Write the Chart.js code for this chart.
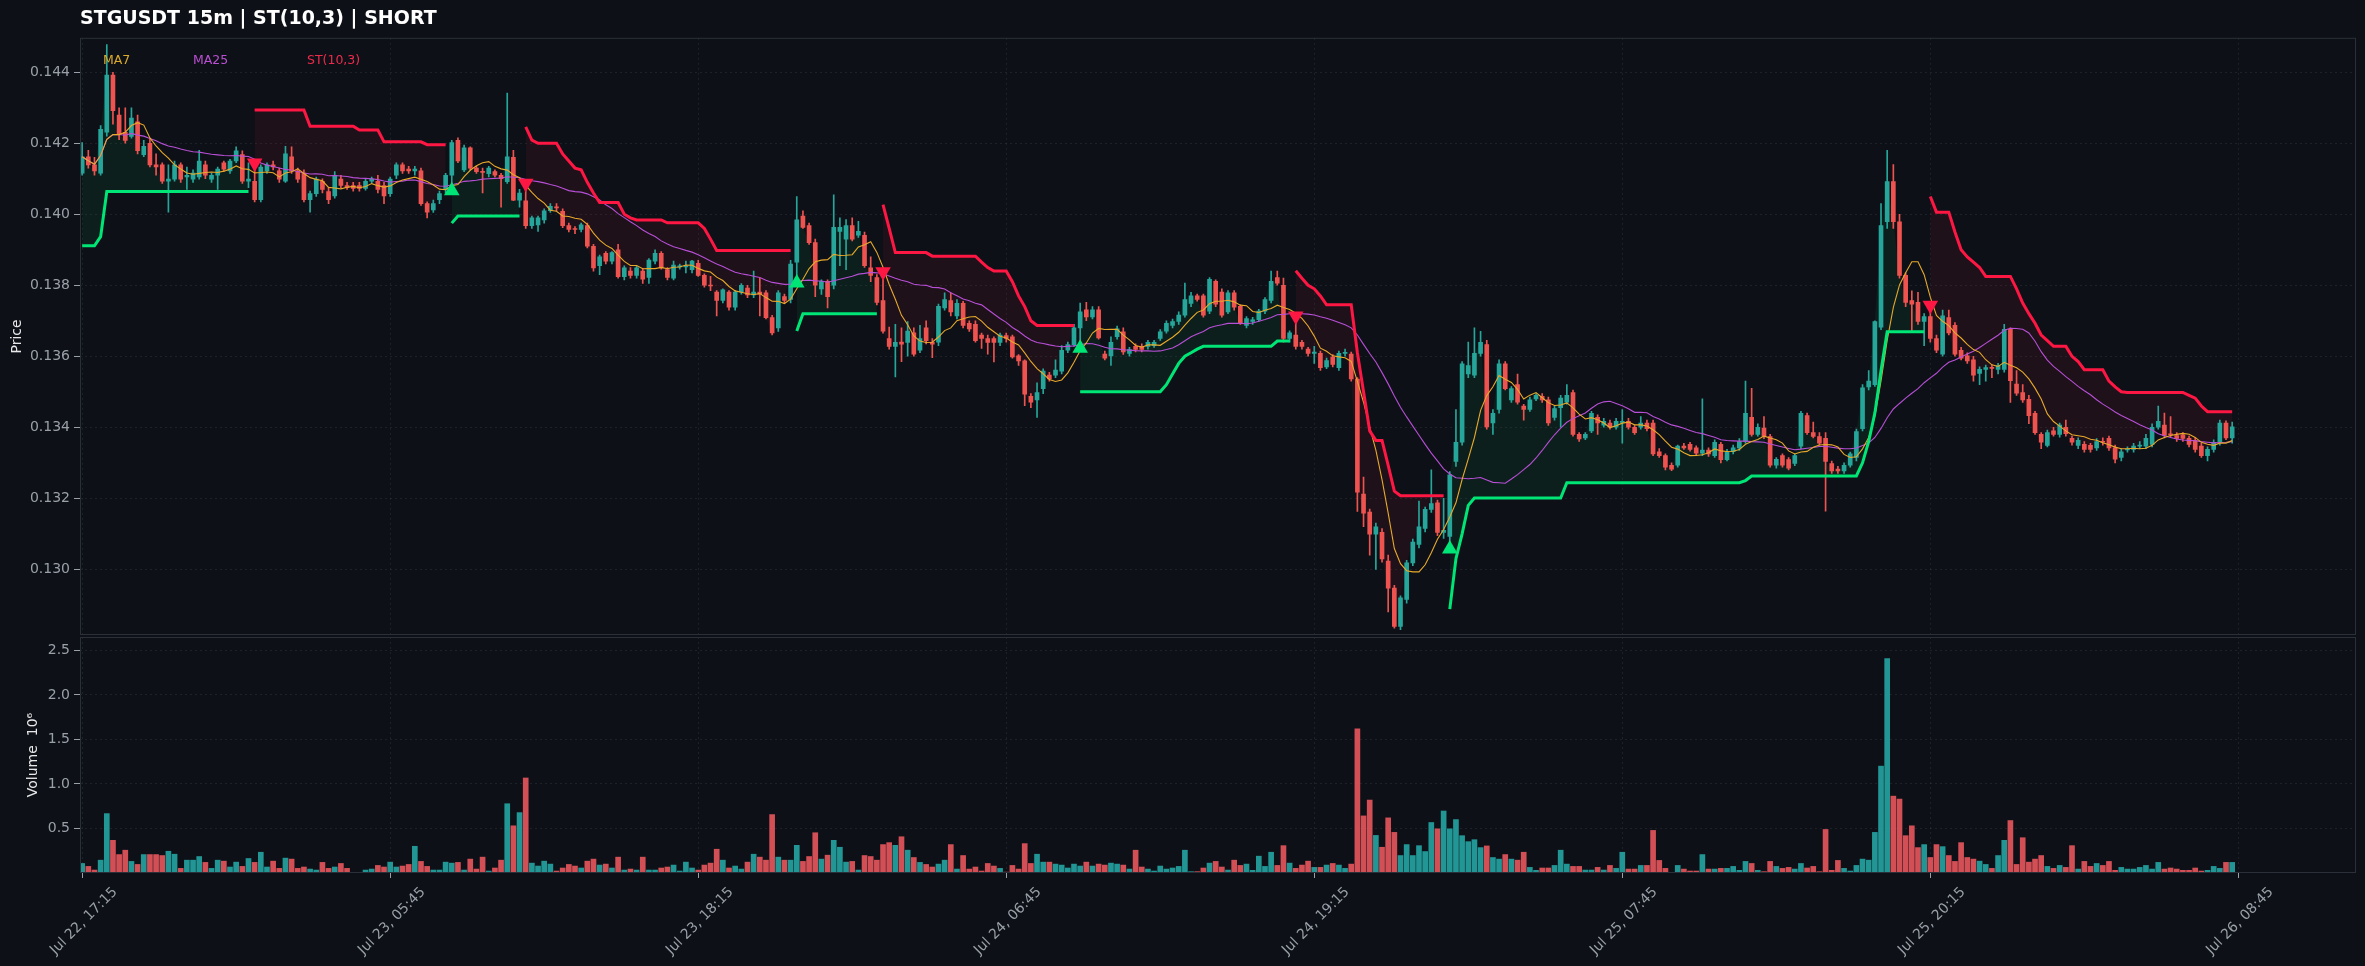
<!DOCTYPE html>
<html>
<head>
<meta charset="utf-8">
<title>STGUSDT 15m | ST(10,3) | SHORT</title>
<script src="https://cdn.jsdelivr.net/npm/chart.js@4.4.1/dist/chart.umd.min.js"></script>
<style>
  html, body { margin: 0; padding: 0; background: #0d1117; }
  #wrap { position: relative; width: 2365px; height: 966px; overflow: hidden; }
  #price-box { position: absolute; left: 0; top: 0; width: 2365px; height: 637px; }
  #volume-box { position: absolute; left: 0; top: 637px; width: 2365px; height: 329px; }
</style>
</head>
<body>
<div id="wrap">
  <div id="price-box"><canvas id="price-chart"></canvas></div>
  <div id="volume-box"><canvas id="volume-chart"></canvas></div>
</div>
<script>
/************/
/*** DATA ***/
/************/

// 15m candles, bar 0 = Jul 22 17:15:
const opens = [
  .14116,.14162,.14139,.14116,.14231,.14392,.14279,.14231,.14219,.14260,
  .14168,.14200,.14139,.14139,.14093,.14099,.14139,.14105,.14099,.14105,
  .14139,.14099,.14110,.14145,.14122,.14150,.14168,.14093,.14093,.14041,
  .14122,.14139,.14122,.14093,.14162,.14122,.14116,.14041,.14058,.14093,
  .14064,.14052,.14099,.14081,.14081,.14081,.14073,.14093,.14093,.14081,
  .14058,.14110,.14139,.14127,.14122,.14122,.14030,.14012,.14041,.14070,
  .14110,.14208,.14125,.14187,.14130,.14120,.14114,.14120,.14110,.14092,
  .14160,.14040,.14038,.13968,.13970,.13984,.14010,.14020,.14008,.13968,
  .13960,.13957,.13968,.13910,.13855,.13890,.13868,.13900,.13824,.13840,
  .13828,.13840,.13822,.13868,.13890,.13844,.13820,.13852,.13852,.13844,
  .13862,.13828,.13800,.13781,.13757,.13781,.13738,.13781,.13792,.13773,
  .13781,.13779,.13709,.13680,.13768,.13760,.13865,.13995,.13968,.13920,
  .13790,.13811,.13800,.13952,.13930,.13968,.13941,.13941,.13849,.13822,
  .13757,.13650,.13628,.13640,.13639,.13666,.13617,.13680,.13639,.13640,
  .13736,.13757,.13714,.13749,.13693,.13690,.13660,.13650,.13650,.13639,
  .13658,.13655,.13601,.13587,.13487,.13477,.13509,.13547,.13547,.13558,
  .13617,.13633,.13680,.13731,.13711,.13731,.13606,.13601,.13655,.13669,
  .13608,.13628,.13628,.13628,.13630,.13650,.13671,.13687,.13698,.13716,
  .13749,.13770,.13770,.13727,.13811,.13781,.13725,.13779,.13741,.13687,
  .13698,.13703,.13727,.13757,.13822,.13800,.13650,.13660,.13639,.13620,
  .13608,.13608,.13570,.13598,.13568,.13608,.13606,.13536,.13212,.13161,
  .13099,.13104,.13023,.12947,.12839,.12915,.13018,.13070,.13115,.13169,
  .13187,.13104,.13093,.13304,.13358,.13550,.13547,.13608,.13633,.13412,
  .13450,.13579,.13477,.13520,.13460,.13450,.13480,.13487,.13477,.13428,
  .13455,.13471,.13498,.13380,.13370,.13390,.13428,.13406,.13412,.13400,
  .13414,.13417,.13400,.13400,.13412,.13412,.13331,.13320,.13293,.13293,
  .13347,.13352,.13342,.13327,.13336,.13320,.13352,.13309,.13331,.13342,
  .13360,.13428,.13380,.13398,.13374,.13293,.13320,.13309,.13298,.13347,
  .13433,.13385,.13374,.13369,.13298,.13282,.13277,.13293,.13315,.13396,
  .13514,.13520,.13682,.13979,.14092,.13979,.13828,.13757,.13752,.13698,
  .13712,.13650,.13606,.13709,.13687,.13617,.13601,.13590,.13552,.13563,
  .13568,.13563,.13563,.13676,.13522,.13498,.13479,.13439,.13380,.13349,
  .13390,.13380,.13400,.13369,.13349,.13352,.13349,.13342,.13360,.13369,
  .13342,.13315,.13336,.13338,.13347,.13347,.13352,.13400,.13406,.13380,
  .13377,.13379,.13369,.13363,.13347,.13320,.13338,.13358,.13412,.13370
];
const highs = [
  .14202,.14180,.14160,.14250,.14478,.14400,.14300,.14300,.14300,.14279,
  .14208,.14214,.14170,.14145,.14139,.14150,.14145,.14133,.14125,.14180,
  .14150,.14116,.14133,.14150,.14155,.14190,.14179,.14145,.14130,.14139,
  .14145,.14150,.14130,.14191,.14190,.14130,.14125,.14065,.14105,.14100,
  .14075,.14120,.14110,.14090,.14090,.14090,.14100,.14105,.14110,.14090,
  .14105,.14145,.14145,.14135,.14135,.14130,.14035,.14040,.14065,.14115,
  .14208,.14215,.14195,.14190,.14135,.14130,.14135,.14125,.14115,.14341,
  .14180,.14070,.14073,.13995,.13995,.14015,.14030,.14030,.14015,.13975,
  .13965,.13975,.13975,.13915,.13885,.13895,.13895,.13915,.13855,.13850,
  .13855,.13848,.13875,.13900,.13895,.13850,.13868,.13860,.13868,.13870,
  .13870,.13832,.13825,.13785,.13790,.13785,.13785,.13805,.13800,.13840,
  .13820,.13785,.13715,.13785,.13775,.13870,.14050,.14010,.13975,.13930,
  .13815,.13815,.14055,.13990,.13985,.13990,.13980,.13950,.13880,.13830,
  .13824,.13682,.13690,.13680,.13698,.13680,.13687,.13700,.13650,.13747,
  .13779,.13779,.13760,.13755,.13700,.13700,.13665,.13660,.13655,.13665,
  .13665,.13660,.13605,.13590,.13495,.13525,.13565,.13555,.13590,.13630,
  .13640,.13690,.13750,.13752,.13740,.13740,.13615,.13655,.13685,.13680,
  .13625,.13635,.13635,.13645,.13645,.13675,.13700,.13705,.13725,.13806,
  .13780,.13775,.13775,.13822,.13815,.13790,.13785,.13785,.13745,.13712,
  .13710,.13732,.13765,.13840,.13840,.13820,.13672,.13700,.13645,.13625,
  .13628,.13615,.13595,.13605,.13615,.13620,.13612,.13540,.13260,.13170,
  .13130,.13115,.13040,.12955,.12925,.13025,.13085,.13192,.13175,.13280,
  .13195,.13200,.13275,.13450,.13585,.13640,.13680,.13670,.13645,.13450,
  .13590,.13585,.13515,.13550,.13465,.13485,.13495,.13495,.13485,.13460,
  .13490,.13520,.13505,.13385,.13385,.13445,.13435,.13425,.13420,.13425,
  .13450,.13425,.13405,.13430,.13420,.13420,.13340,.13325,.13300,.13350,
  .13355,.13358,.13348,.13480,.13342,.13365,.13358,.13338,.13350,.13368,
  .13530,.13510,.13410,.13430,.13380,.13315,.13325,.13315,.13325,.13445,
  .13440,.13415,.13385,.13385,.13305,.13290,.13300,.13330,.13395,.13520,
  .13560,.13700,.14030,.14180,.14140,.14000,.13835,.13784,.13780,.13720,
  .13730,.13660,.13730,.13730,.13695,.13625,.13610,.13600,.13570,.13575,
  .13575,.13580,.13690,.13680,.13560,.13520,.13490,.13445,.13385,.13392,
  .13400,.13412,.13420,.13375,.13370,.13360,.13355,.13368,.13370,.13375,
  .13350,.13340,.13345,.13355,.13360,.13380,.13410,.13460,.13440,.13430,
  .13385,.13385,.13375,.13370,.13355,.13345,.13365,.13420,.13418,.13415
];
const lows = [
  .14110,.14130,.14110,.14110,.14220,.14254,.14210,.14200,.14214,.14170,
  .14162,.14133,.14110,.14087,.14006,.14093,.14090,.14070,.14090,.14099,
  .14100,.14090,.14070,.14120,.14115,.14145,.14087,.14075,.14035,.14035,
  .14115,.14125,.14090,.14090,.14115,.14090,.14035,.14006,.14050,.14060,
  .14030,.14045,.14075,.14070,.14065,.14065,.14068,.14088,.14060,.14030,
  .14050,.14100,.14115,.14115,.14110,.14025,.13990,.14005,.14030,.14060,
  .14080,.14145,.14120,.14125,.14115,.14060,.14105,.14105,.14020,.14087,
  .14038,.14020,.13960,.13960,.13952,.13975,.14005,.14010,.13962,.13950,
  .13945,.13950,.13905,.13840,.13830,.13860,.13860,.13820,.13815,.13820,
  .13820,.13805,.13805,.13860,.13845,.13815,.13815,.13845,.13835,.13835,
  .13825,.13795,.13785,.13714,.13750,.13730,.13730,.13775,.13765,.13765,
  .13714,.13705,.13660,.13670,.13750,.13750,.13820,.13960,.13915,.13768,
  .13774,.13736,.13790,.13855,.13844,.13925,.13935,.13850,.13810,.13745,
  .13665,.13620,.13542,.13585,.13600,.13600,.13610,.13635,.13596,.13630,
  .13730,.13714,.13705,.13680,.13670,.13640,.13622,.13606,.13584,.13630,
  .13640,.13595,.13574,.13461,.13455,.13428,.13495,.13530,.13540,.13550,
  .13610,.13628,.13636,.13700,.13705,.13648,.13590,.13574,.13648,.13605,
  .13600,.13612,.13612,.13620,.13625,.13645,.13665,.13680,.13690,.13710,
  .13740,.13755,.13710,.13720,.13740,.13710,.13720,.13730,.13690,.13680,
  .13690,.13698,.13720,.13750,.13800,.13640,.13640,.13620,.13620,.13600,
  .13580,.13560,.13565,.13570,.13560,.13600,.13530,.13163,.13120,.13040,
  .13000,.13020,.12880,.12834,.12830,.12905,.13010,.13060,.13105,.13160,
  .13095,.13087,.13070,.13290,.13350,.13540,.13540,.13600,.13395,.13380,
  .13440,.13505,.13470,.13465,.13420,.13445,.13475,.13470,.13405,.13420,
  .13400,.13465,.13375,.13360,.13365,.13385,.13380,.13400,.13395,.13395,
  .13355,.13395,.13380,.13395,.13390,.13320,.13315,.13280,.13278,.13288,
  .13338,.13333,.13320,.13320,.13318,.13315,.13300,.13305,.13325,.13335,
  .13355,.13375,.13375,.13368,.13288,.13285,.13288,.13280,.13292,.13340,
  .13380,.13370,.13350,.13164,.13270,.13270,.13270,.13288,.13305,.13390,
  .13505,.13515,.13675,.13960,.13960,.13820,.13740,.13671,.13690,.13630,
  .13640,.13610,.13600,.13660,.13600,.13590,.13580,.13530,.13520,.13530,
  .13540,.13550,.13555,.13470,.13490,.13470,.13410,.13380,.13340,.13345,
  .13375,.13372,.13375,.13350,.13340,.13330,.13330,.13335,.13350,.13335,
  .13300,.13305,.13330,.13330,.13340,.13340,.13345,.13395,.13370,.13372,
  .13360,.13360,.13345,.13330,.13315,.13305,.13330,.13350,.13365,.13355
];
const closes = [
  .14162,.14139,.14122,.14239,.14392,.14292,.14225,.14208,.14271,.14179,
  .14191,.14139,.14133,.14093,.14099,.14139,.14099,.14110,.14116,.14150,
  .14110,.14110,.14127,.14127,.14150,.14179,.14093,.14099,.14041,.14133,
  .14139,.14133,.14099,.14170,.14122,.14099,.14041,.14058,.14099,.14070,
  .14041,.14110,.14081,.14075,.14073,.14073,.14093,.14099,.14070,.14052,
  .14099,.14139,.14122,.14122,.14127,.14030,.14006,.14030,.14058,.14110,
  .14202,.14150,.14187,.14130,.14120,.14118,.14130,.14110,.14100,.14162,
  .14040,.14060,.13968,.13990,.13990,.14010,.14022,.14018,.13968,.13957,
  .13957,.13970,.13910,.13849,.13880,.13868,.13892,.13824,.13849,.13828,
  .13849,.13817,.13871,.13890,.13849,.13822,.13857,.13854,.13855,.13868,
  .13828,.13800,.13798,.13757,.13787,.13738,.13781,.13800,.13773,.13781,
  .13775,.13709,.13666,.13779,.13757,.13860,.13984,.13963,.13920,.13800,
  .13811,.13768,.13963,.13963,.13968,.13930,.13952,.13855,.13828,.13752,
  .13671,.13628,.13639,.13634,.13671,.13606,.13650,.13644,.13634,.13741,
  .13760,.13725,.13749,.13687,.13677,.13644,.13650,.13639,.13639,.13660,
  .13650,.13598,.13587,.13493,.13471,.13498,.13558,.13536,.13561,.13617,
  .13633,.13680,.13725,.13711,.13731,.13652,.13595,.13639,.13677,.13612,
  .13619,.13619,.13619,.13639,.13639,.13669,.13693,.13698,.13716,.13760,
  .13770,.13760,.13716,.13817,.13747,.13716,.13779,.13738,.13695,.13706,
  .13703,.13727,.13760,.13811,.13806,.13650,.13666,.13628,.13628,.13608,
  .13612,.13568,.13588,.13577,.13608,.13610,.13536,.13217,.13158,.13099,
  .13120,.13029,.12947,.12839,.12920,.13018,.13077,.13120,.13169,.13185,
  .13104,.13110,.13266,.13358,.13579,.13574,.13608,.13639,.13401,.13439,
  .13579,.13509,.13509,.13471,.13450,.13477,.13490,.13477,.13412,.13453,
  .13482,.13490,.13380,.13367,.13380,.13439,.13412,.13417,.13400,.13417,
  .13417,.13400,.13385,.13412,.13396,.13325,.13320,.13288,.13282,.13347,
  .13342,.13338,.13327,.13336,.13325,.13358,.13309,.13331,.13342,.13360,
  .13439,.13380,.13400,.13374,.13293,.13310,.13293,.13285,.13320,.13439,
  .13385,.13374,.13355,.13304,.13277,.13277,.13293,.13325,.13388,.13511,
  .13530,.13698,.13968,.14092,.13979,.13828,.13752,.13747,.13698,.13712,
  .13650,.13617,.13714,.13666,.13606,.13595,.13587,.13547,.13563,.13568,
  .13566,.13574,.13676,.13531,.13496,.13477,.13433,.13385,.13358,.13385,
  .13380,.13406,.13382,.13358,.13363,.13338,.13338,.13360,.13358,.13342,
  .13310,.13331,.13338,.13347,.13350,.13369,.13400,.13417,.13377,.13379,
  .13369,.13369,.13352,.13338,.13320,.13338,.13358,.13412,.13370,.13401
];

// Volume per bar, in millions:
const volumes = [
  .107,.074,.033,.144,.667,.367,.207,.256,.130,.096,
  .207,.207,.207,.196,.244,.211,.052,.144,.144,.185,
  .119,.052,.144,.133,.067,.122,.074,.163,.119,.233,
  .067,.133,.052,.167,.156,.052,.067,.044,.033,.119,
  .052,.067,.107,.052,.007,.007,.033,.044,.085,.067,
  .122,.067,.078,.096,.300,.130,.074,.033,.033,.122,
  .111,.119,.033,.156,.044,.178,.022,.056,.144,.778,
  .530,.678,1.067,.111,.078,.133,.100,.022,.056,.096,
  .078,.056,.133,.156,.089,.100,.056,.178,.033,.044,
  .033,.178,.033,.033,.056,.067,.089,.022,.122,.056,
  .033,.089,.111,.267,.144,.056,.078,.044,.122,.211,
  .178,.144,.656,.178,.144,.144,.311,.130,.185,.452,
  .156,.200,.367,.289,.122,.130,.033,.196,.185,.144,
  .319,.341,.311,.407,.256,.174,.119,.096,.067,.100,
  .144,.319,.044,.196,.044,.067,.022,.107,.078,.052,
  .010,.085,.044,.330,.107,.211,.122,.122,.100,.089,
  .056,.100,.078,.122,.078,.100,.089,.111,.100,.089,
  .044,.256,.067,.044,.022,.078,.044,.056,.074,.256,
  .015,.015,.056,.111,.130,.067,.033,.144,.085,.100,
  .030,.189,.074,.233,.085,.307,.111,.052,.089,.133,
  .063,.063,.089,.107,.089,.052,.100,1.619,.641,.819,
  .422,.289,.619,.456,.196,.319,.196,.307,.241,.567,
  .496,.696,.496,.600,.419,.352,.374,.285,.304,.174,
  .156,.207,.156,.144,.233,.063,.030,.056,.056,.085,
  .256,.100,.074,.074,.033,.033,.063,.033,.085,.052,
  .233,.044,.044,.085,.085,.478,.141,.052,.007,.085,
  .044,.022,.022,.207,.044,.044,.052,.052,.074,.030,
  .130,.107,.030,.015,.130,.074,.052,.063,.044,.107,
  .056,.074,.015,.489,.030,.141,.052,.022,.085,.156,
  .144,.456,1.200,2.407,.863,.830,.419,.530,.285,.319,
  .174,.319,.296,.196,.130,.341,.174,.156,.133,.096,
  .052,.196,.367,.589,.096,.396,.122,.156,.196,.074,
  .052,.085,.063,.307,.044,.130,.074,.107,.085,.130,
  .030,.063,.044,.044,.063,.085,.044,.119,.044,.056,
  .044,.030,.030,.056,.022,.030,.074,.052,.119,.119
];

// SuperTrend(10,3) line value per bar:
const stLine = [
  .13911,.13911,.13911,.13937,.14064,.14064,.14064,.14064,.14064,.14064,
  .14064,.14064,.14064,.14064,.14064,.14064,.14064,.14064,.14064,.14064,
  .14064,.14064,.14064,.14064,.14064,.14064,.14064,.14064,.14294,.14294,
  .14294,.14294,.14294,.14294,.14294,.14294,.14294,.14248,.14248,.14248,
  .14248,.14248,.14248,.14248,.14248,.14237,.14237,.14237,.14237,.14204,
  .14204,.14204,.14204,.14204,.14204,.14204,.14196,.14196,.14196,.14196,
  .13975,.13995,.13995,.13995,.13995,.13995,.13995,.13995,.13995,.13995,
  .13995,.13995,.14246,.14209,.14200,.14200,.14200,.14200,.14170,.14150,
  .14130,.14125,.14090,.14060,.14033,.14033,.14033,.14033,.14000,.13990,
  .13984,.13984,.13984,.13984,.13984,.13976,.13976,.13976,.13976,.13976,
  .13976,.13960,.13930,.13898,.13898,.13898,.13898,.13898,.13898,.13898,
  .13898,.13898,.13898,.13898,.13898,.13898,.13671,.13720,.13720,.13720,
  .13720,.13720,.13720,.13720,.13720,.13720,.13720,.13720,.13720,.13720,
  .14027,.13960,.13892,.13892,.13892,.13892,.13892,.13892,.13882,.13882,
  .13882,.13882,.13882,.13882,.13882,.13882,.13865,.13850,.13840,.13840,
  .13840,.13810,.13770,.13740,.13700,.13687,.13687,.13687,.13687,.13687,
  .13687,.13687,.13500,.13500,.13500,.13500,.13500,.13500,.13500,.13500,
  .13500,.13500,.13500,.13500,.13500,.13500,.13520,.13550,.13580,.13600,
  .13610,.13620,.13628,.13628,.13628,.13628,.13628,.13628,.13628,.13628,
  .13628,.13628,.13628,.13628,.13643,.13643,.13643,.13841,.13820,.13800,
  .13790,.13770,.13745,.13745,.13745,.13745,.13745,.13610,.13500,.13390,
  .13363,.13363,.13293,.13220,.13207,.13207,.13207,.13207,.13207,.13207,
  .13207,.13207,.12888,.13030,.13100,.13180,.13201,.13201,.13201,.13201,
  .13201,.13201,.13201,.13201,.13201,.13201,.13201,.13201,.13201,.13201,
  .13201,.13244,.13244,.13244,.13244,.13244,.13244,.13244,.13244,.13244,
  .13244,.13244,.13244,.13244,.13244,.13244,.13244,.13244,.13244,.13244,
  .13244,.13244,.13244,.13244,.13244,.13244,.13244,.13244,.13244,.13244,
  .13250,.13263,.13263,.13263,.13263,.13263,.13263,.13263,.13263,.13263,
  .13263,.13263,.13263,.13263,.13263,.13263,.13263,.13263,.13263,.13300,
  .13360,.13440,.13560,.13669,.13669,.13669,.13669,.13669,.13669,.13669,
  .14050,.14006,.14006,.14006,.13950,.13900,.13880,.13865,.13850,.13825,
  .13825,.13825,.13825,.13825,.13790,.13750,.13720,.13693,.13660,.13644,
  .13628,.13628,.13628,.13600,.13585,.13562,.13562,.13562,.13562,.13530,
  .13514,.13500,.13498,.13498,.13498,.13498,.13498,.13498,.13498,.13498,
  .13498,.13498,.13490,.13482,.13460,.13444,.13444,.13444,.13444,.13444
];

// Trend flips: [bar, direction] (1 = up / long, -1 = down / short)
const trendFlips = [[0, 1], [28, -1], [60, 1], [72, -1], [116, 1], [130, -1], [162, 1], [197, -1], [222, 1], [300, -1]];

// Axes:
const xTickBars = [0, 50, 100, 150, 200, 250, 300, 350];
const xTickLabels = ['Jul 22, 17:15', 'Jul 23, 05:45', 'Jul 23, 18:15', 'Jul 24, 06:45',
                     'Jul 24, 19:15', 'Jul 25, 07:45', 'Jul 25, 20:15', 'Jul 26, 08:45'];
const priceTicks = [0.130, 0.132, 0.134, 0.136, 0.138, 0.140, 0.142, 0.144];
const volumeTicks = [0.5, 1.0, 1.5, 2.0, 2.5];


/*****************/
/*** FUNCTIONS ***/
/*****************/

// Rolling mean; the first bars use the bars available so far:
function movingAverage(values, n) {
    return values.map((v, i) => {
        const win = values.slice(Math.max(0, i - n + 1), i + 1);
        return win.reduce((a, b) => a + b, 0) / win.length;
    });
}

function trendAt(i) {
    let dir = 1;
    for (const [bar, d] of trendFlips) if (i >= bar) dir = d;
    return dir;
}

const pts = arr => arr.map((y, x) => ({x: x, y: y}));

// Fixed left axis width, and no extra room for half tick labels:
function fixYAxis(scale) {
    scale.width = 80;
    scale.paddingTop = 0;
    scale.paddingBottom = 0;
}

function fixXAxis(height) {
    return scale => {
        scale.height = height;
        scale.paddingLeft = 0;
        scale.paddingRight = 0;
    };
}


/*************/
/*** STYLE ***/
/*************/

const FONT = 'DejaVu Sans';
const UP = '#26a69a', DOWN = '#ef5350';
const ST_UP = '#00e676', ST_DOWN = '#ff1744';
const GRID = 'rgba(255,255,255,0.07)';
const GRID_DASH = [2, 3];
const TICK_COLOR = '#9aa0a8';
const LABEL_COLOR = '#e8e8e8';
const X_MIN = -0.35, X_MAX = 369.1;

Chart.defaults.font.family = FONT;

// Legend entries (text, colour, offset from plot left):
const legendEntries = [['MA7', '#dcaa2a', 23], ['MA25', '#bb4fd4', 113], ['ST(10,3)', '#ee2a4c', 227]];

const framePlugin = {
    id: 'frame',
    afterDraw(chart) {
        const {ctx, chartArea: a} = chart;
        ctx.save();
        ctx.strokeStyle = '#2b3038';
        ctx.lineWidth = 1;
        ctx.strokeRect(a.left + 0.5, a.top + 0.5, a.width - 1, a.height - 1);
        ctx.restore();
    }
};

const legendPlugin = {
    id: 'legendText',
    afterDatasetsDraw(chart) {
        const {ctx, chartArea: a} = chart;
        ctx.save();
        ctx.font = '12.5px "' + FONT + '"';
        ctx.textBaseline = 'middle';
        legendEntries.forEach(([text, color, dx]) => {
            ctx.fillStyle = color;
            ctx.fillText(text, a.left + dx, a.top + 23);
        });
        ctx.restore();
    }
};


/****************/
/*** Plotting ***/
/****************/

const ma7 = movingAverage(closes, 7);
const ma25 = movingAverage(closes, 25);
const stUp = stLine.map((v, i) => trendAt(i) === 1 ? v : null);
const stDown = stLine.map((v, i) => trendAt(i) === -1 ? v : null);
const buySignals = trendFlips.filter(([bar, d]) => d === 1 && bar > 0).map(([bar]) => ({x: bar, y: lows[bar] * 0.999}));
const sellSignals = trendFlips.filter(([bar, d]) => d === -1).map(([bar]) => ({x: bar, y: highs[bar] * 1.001}));
const candleColors = closes.map((c, i) => c >= opens[i] ? UP : DOWN);
const volumeColors = closes.map((c, i) => c >= opens[i] ? 'rgba(38,168,166,0.88)' : 'rgba(239,88,96,0.88)');

function genPriceChart() {
    const ctx = document.getElementById('price-chart');
    return new Chart(ctx, {
        type: 'bar',
        data: {
            datasets: [
                {type: 'line', label: 'close', data: pts(closes), borderColor: 'transparent', borderWidth: 0, pointRadius: 0, order: 9},
                {label: 'wick', data: lows.map((l, i) => ({x: i, y: [l, highs[i]]})), backgroundColor: candleColors,
                 barThickness: 1, grouped: false, order: 8},
                {label: 'body', data: opens.map((o, i) => ({x: i, y: [o, closes[i]]})), backgroundColor: candleColors,
                 barThickness: 4, minBarLength: 1, grouped: false, order: 7},
                {type: 'line', label: 'MA25', data: pts(ma25), borderColor: '#b84fd6', borderWidth: 1.1, pointRadius: 0, order: 6},
                {type: 'line', label: 'MA7', data: pts(ma7), borderColor: '#e8a92a', borderWidth: 1.1, pointRadius: 0, order: 5},
                {type: 'line', label: 'ST up', data: pts(stUp), borderColor: ST_UP, borderWidth: 3, pointRadius: 0,
                 fill: {target: 0}, backgroundColor: 'rgba(0,230,118,0.07)', order: 3},
                {type: 'line', label: 'ST down', data: pts(stDown), borderColor: ST_DOWN, borderWidth: 3, pointRadius: 0,
                 fill: {target: 0}, backgroundColor: 'rgba(255,23,68,0.07)', order: 3},
                {type: 'scatter', label: 'buy', data: buySignals, pointStyle: 'triangle', pointRadius: 9,
                 backgroundColor: ST_UP, borderWidth: 0, order: 1},
                {type: 'scatter', label: 'sell', data: sellSignals, pointStyle: 'triangle', rotation: 180, pointRadius: 9,
                 backgroundColor: ST_DOWN, borderWidth: 0, order: 1}
            ]
        },
        options: {
            responsive: true,
            maintainAspectRatio: false,
            animation: false,
            events: [],
            layout: {autoPadding: false, padding: {left: 0, right: 9, top: 0, bottom: 2}},
            plugins: {
                legend: {display: false},
                tooltip: {enabled: false},
                filler: {drawTime: 'beforeDatasetsDraw'},
                title: {display: true, text: 'STGUSDT 15m | ST(10,3) | SHORT', align: 'start', fullSize: false,
                        color: '#ffffff', font: {size: 19, weight: 'bold'}, padding: {top: 8, bottom: 7}}
            },
            scales: {
                x: {type: 'linear', min: X_MIN, max: X_MAX, offset: false,
                    afterBuildTicks: s => { s.ticks = xTickBars.map(v => ({value: v})); },
                    afterFit: fixXAxis(0),
                    ticks: {display: false},
                    grid: {color: GRID, drawTicks: false, offset: false},
                    border: {display: false, dash: GRID_DASH}},
                y: {min: 0.12815, max: 0.14497,
                    afterBuildTicks: s => { s.ticks = priceTicks.map(v => ({value: v})); },
                    afterFit: fixYAxis,
                    ticks: {color: TICK_COLOR, font: {size: 14}, padding: 4, callback: v => v.toFixed(3)},
                    grid: {color: GRID, tickColor: TICK_COLOR, tickLength: 6},
                    border: {display: false, dash: GRID_DASH},
                    title: {display: true, text: 'Price', color: LABEL_COLOR, font: {size: 14}, padding: {top: 9, bottom: 0}}}
            }
        },
        plugins: [framePlugin, legendPlugin]
    });
}

function genVolumeChart() {
    const ctx = document.getElementById('volume-chart');
    return new Chart(ctx, {
        type: 'bar',
        data: {
            datasets: [{label: 'Volume', data: pts(volumes), backgroundColor: volumeColors, barThickness: 5, grouped: false}]
        },
        options: {
            responsive: true,
            maintainAspectRatio: false,
            animation: false,
            events: [],
            layout: {autoPadding: false, padding: {left: 0, right: 9, top: 0, bottom: 0}},
            plugins: {legend: {display: false}, tooltip: {enabled: false}},
            scales: {
                x: {type: 'linear', min: X_MIN, max: X_MAX, offset: false,
                    afterBuildTicks: s => { s.ticks = xTickBars.map(v => ({value: v})); },
                    afterFit: fixXAxis(93),
                    ticks: {color: TICK_COLOR, font: {size: 14}, minRotation: 45, maxRotation: 45, autoSkip: false,
                            padding: 6, labelOffset: 33,
                            callback: v => xTickLabels[xTickBars.indexOf(v)]},
                    grid: {color: GRID, tickColor: TICK_COLOR, tickLength: 5, offset: false},
                    border: {display: false, dash: GRID_DASH}},
                y: {min: 0, max: 2.65,
                    afterBuildTicks: s => { s.ticks = volumeTicks.map(v => ({value: v})); },
                    afterFit: fixYAxis,
                    ticks: {color: TICK_COLOR, font: {size: 14}, padding: 4, callback: v => v.toFixed(1)},
                    grid: {color: GRID, tickColor: TICK_COLOR, tickLength: 6},
                    border: {display: false, dash: GRID_DASH},
                    title: {display: true, text: 'Volume  10⁶', color: LABEL_COLOR, font: {size: 14}, padding: {top: 25, bottom: 0}}}
            }
        },
        plugins: [framePlugin]
    });
}


/************/
/*** INIT ***/
/************/

let priceChart = genPriceChart();
let volumeChart = genVolumeChart();
</script>
</body>
</html>
